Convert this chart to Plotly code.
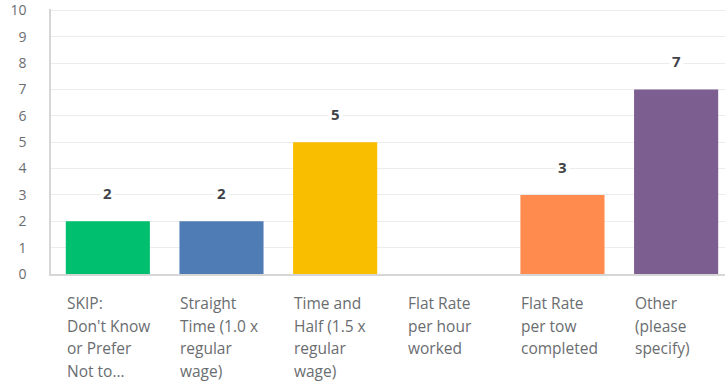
import plotly.graph_objects as go

categories = ["SKIP: Don't Know or Prefer Not to...", "Straight Time (1.0 x regular wage)",
              "Time and Half (1.5 x regular wage)", "Flat Rate per hour worked",
              "Flat Rate per tow completed", "Other (please specify)"]
label_lines = [["SKIP:", "Don't Know", "or Prefer", "Not to..."],
               ["Straight", "Time (1.0 x", "regular", "wage)"],
               ["Time and", "Half (1.5 x", "regular", "wage)"],
               ["Flat Rate", "per hour", "worked"],
               ["Flat Rate", "per tow", "completed"],
               ["Other", "(please", "specify)"]]
values = [2, 2, 5, 0, 3, 7]
colors = ["#00bf6f", "#507cb6", "#f9be00", "#6bc8cd", "#ff8b4f", "#7d5e90"]
y_ticks = list(range(0, 11))

FONT = "Open Sans"
fig = go.Figure(go.Bar(x=categories, y=values, marker=dict(color=colors, line=dict(width=0)),
                       hoverinfo="skip"))

ann = []
for c, v in zip(categories, values):
    if v > 0:
        ann.append(dict(x=c, y=v, xref="x", yref="y", text=f"<b>{v}</b>", showarrow=False,
                        yanchor="bottom", yshift=15, bgcolor="white", borderpad=2,
                        font=dict(family=FONT, size=15, color="#3f4347")))
for c, lines in zip(categories, label_lines):
    for i, ln in enumerate(lines):
        ann.append(dict(x=c, y=0, xref="x", yref="paper", text=ln, showarrow=False,
                        xanchor="left", yanchor="middle", xshift=-43, yshift=-29 - 22.6 * i,
                        font=dict(family=FONT, size=15.5, color="#6a6d70")))

fig.update_layout(
    width=725, height=383, margin=dict(l=51, r=0, t=9, b=109),
    plot_bgcolor="white", paper_bgcolor="white", bargap=0.26, showlegend=False,
    annotations=ann,
    xaxis=dict(showticklabels=False, showline=True, linecolor="#d6d6d6", linewidth=1.5,
               showgrid=False, ticks="", range=[-0.5, 5.43]),
    yaxis=dict(range=[0, 10.05], tickvals=y_ticks, showline=True, linecolor="#d6d6d6", linewidth=1.5,
               gridcolor="#ececec", gridwidth=1, zeroline=False, ticks="",
               ticklabeloverflow="allow",
               ticklabelstandoff=20, tickfont=dict(family=FONT, size=14, color="#6a6d70")),
)
fig.write_html("out.html")
